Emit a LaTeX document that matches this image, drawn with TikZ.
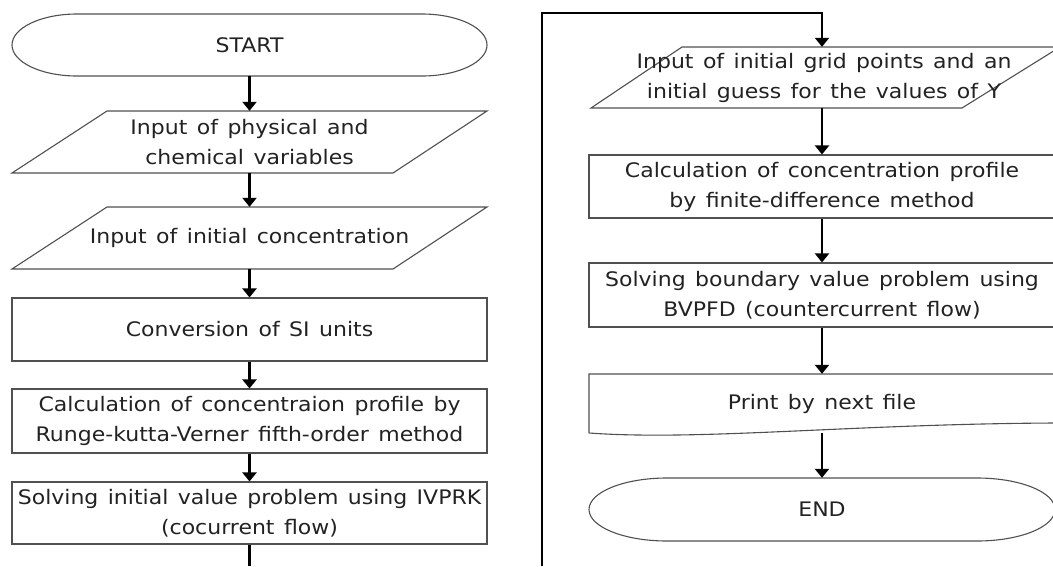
\documentclass[tikz,border=0pt]{standalone}
\usepackage{fontspec}
\setmainfont{DejaVu Sans}[FakeStretch=1.1, WordSpace=1.35]
\usetikzlibrary{arrows.meta}
\definecolor{txt}{HTML}{222222}
\definecolor{edge}{HTML}{505050}
\begin{document}
\begin{tikzpicture}[x=1pt,y=-1pt,
  outline/.style={draw=edge, line width=1.1pt},
  lbl/.style={inner sep=0pt, align=center, font=\fontsize{20}{30}\selectfont, text=txt},
  arrowline/.style={line width=2.2pt, -{Triangle[length=9pt,width=14pt]}},
  conn/.style={line width=2.2pt}]
\clip (0,0) rectangle (1053,566);
\fill[white] (0,0) rectangle (1053,566);

% ---------- left column ----------
\draw[outline] (77,14) -- (422,14) arc[start angle=90,end angle=-90,x radius=65pt,y radius=31pt]
  -- (77,76) arc[start angle=270,end angle=90,x radius=65pt,y radius=31pt] -- cycle;
\node[lbl, minimum width=475pt, minimum height=62pt] (start) at (249.5,45) {START};

\draw[outline] (12,173) -- (107,111) -- (487,111) -- (393,173) -- cycle;
\node[lbl, minimum width=380pt, minimum height=62pt] (in1) at (249.5,142) {Input of physical and\\chemical variables};

\draw[outline] (12,269) -- (107,207) -- (487,207) -- (393,269) -- cycle;
\node[lbl, minimum width=380pt, minimum height=62pt] (in2) at (249.5,238) {Input of initial concentration};

\node[lbl, outline, minimum width=475pt, minimum height=63pt] (conv) at (249.5,329.5) {Conversion of SI units};
\node[lbl, outline, minimum width=475pt, minimum height=64pt] (calc) at (249.5,421) {Calculation of concentraion profile by\\Runge-kutta-Verner fifth-order method};
\node[lbl, outline, minimum width=475pt, minimum height=62pt] (solve) at (249.5,513) {Solving initial value problem using IVPRK\\(cocurrent flow)};
\coordinate (botL) at (249.5,566);

\draw[arrowline] (start) -- (in1);
\draw[arrowline] (in1) -- (in2);
\draw[arrowline] (in2) -- (conv);
\draw[arrowline] (conv) -- (calc);
\draw[arrowline] (calc) -- (solve);
\draw[conn] (solve.south) -- (botL);

% ---------- right column ----------
\draw[outline] (591,108) -- (682,47) -- (1060,47) -- (962,108) -- cycle;
\node[lbl, minimum width=370pt, minimum height=61pt] (in3) at (824,77.5) {Input of initial grid points and an\\initial guess for the values of Y};

\node[lbl, outline, minimum width=466pt, minimum height=63pt] (calc2) at (822,186.5) {Calculation of concentration profile\\by finite-difference method};
\node[lbl, outline, minimum width=466pt, minimum height=64pt] (bvp) at (822,295) {Solving boundary value problem using\\BVPFD (countercurrent flow)};

\draw[outline] (589,433) -- (589,374) -- (1055,374) -- (1055,423)
  .. controls (850,424) and (700,441) .. (589,433);
\node[lbl, minimum width=466pt, minimum height=59pt, text depth=0pt] (print) at (822,403.5) {\raisebox{3pt}{Print by next file}};

\draw[outline] (667,478) -- (977,478) arc[start angle=90,end angle=-90,x radius=78pt,y radius=31.5pt]
  -- (667,541) arc[start angle=270,end angle=90,x radius=78pt,y radius=31.5pt] -- cycle;
\node[lbl, minimum width=466pt, minimum height=63pt] (end) at (822,509.5) {END};

\coordinate (botR) at (542,566);
\coordinate (cornerL) at (542,13);
\coordinate (cornerR) at (822,13);
\draw[arrowline] (botR) -- (cornerL) -- (cornerR) -- (in3.north -| cornerR);
\draw[arrowline] (in3.south -| calc2.north) -- (calc2);
\draw[arrowline] (calc2) -- (bvp);
\draw[arrowline] (bvp) -- (print);
\draw[arrowline] (print) -- (end);
\end{tikzpicture}
\end{document}
